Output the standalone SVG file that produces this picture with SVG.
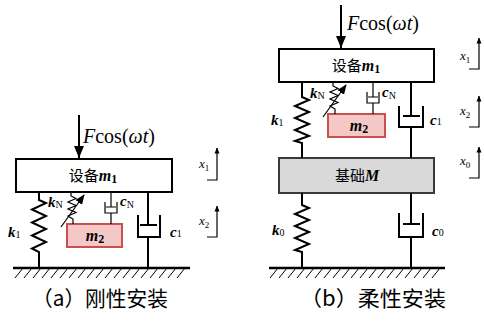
<svg xmlns="http://www.w3.org/2000/svg" width="484" height="322" viewBox="0 0 484 322">
<defs>
<style>
.ln{stroke:#000;stroke-width:2;fill:none}
.th{stroke:#000;stroke-width:1.2;fill:none}
.hatch{stroke:#000;stroke-width:1;fill:none}
.box{fill:#fff;stroke:#000;stroke-width:2}
.m2{fill:#f3c8c6;stroke:#c9504f;stroke-width:2}
.base{fill:#d9d9d9;stroke:#3a3a3a;stroke-width:2}
.serif{font-family:"Liberation Serif","Times New Roman",serif}
.cn{font-family:"Noto Sans CJK SC",sans-serif}
.lab{font-family:"Liberation Serif",serif;font-weight:bold;font-style:italic;font-size:15px}
.sub{font-weight:normal;font-style:normal;font-size:10px}
.xl{font-family:"Liberation Serif",serif;font-style:italic;font-size:13px}
.xs{font-style:normal;font-size:9px}
</style>
<marker id="ah" markerWidth="10" markerHeight="10" refX="9" refY="5" orient="auto" markerUnits="userSpaceOnUse">
<path d="M0,1 L10,5 L0,9 Z" fill="#000"/>
</marker>
<marker id="ahs" markerWidth="6" markerHeight="6" refX="5.5" refY="3" orient="auto" markerUnits="userSpaceOnUse">
<path d="M0,0.5 L6,3 L0,5.5 Z" fill="#000"/>
</marker>
<marker id="ahf" markerWidth="12" markerHeight="10" refX="12" refY="5" orient="auto" markerUnits="userSpaceOnUse">
<path d="M0,0 L12,5 L0,10 Z" fill="#000"/>
</marker>
</defs>

<!-- ============ Panel (a) ============ -->
<g id="a-force">
<line class="ln" x1="79" y1="115" x2="79" y2="158" marker-end="url(#ahf)"/>
<text class="serif" x="83" y="143" font-size="20"><tspan font-style="italic">F</tspan>cos(<tspan font-style="italic">ωt</tspan>)</text>
</g>
<g id="a-m1">
<rect class="box" x="16" y="159" width="156" height="33"/>
<text x="93" y="181" text-anchor="middle"><tspan class="cn" font-size="15">设备</tspan><tspan class="serif" font-size="16" font-weight="bold" font-style="italic">m</tspan><tspan class="serif" font-size="12" font-weight="bold" dy="2">1</tspan></text>
</g>
<g id="a-m2">
<rect class="m2" x="67" y="224" width="55" height="23"/>
<text x="95" y="241" text-anchor="middle"><tspan class="serif" font-size="16" font-weight="bold" font-style="italic">m</tspan><tspan class="serif" font-size="12" font-weight="bold" dy="2">2</tspan></text>
</g>
<g id="a-ground">
<line x1="13" y1="268" x2="190" y2="268" stroke="#000" stroke-width="2.5"/>
<path class="hatch" d="M15 278l8-10M24 278l8-10M33 278l8-10M42 278l8-10M51 278l8-10M60 278l8-10M69 278l8-10M78 278l8-10M87 278l8-10M96 278l8-10M105 278l8-10M114 278l8-10M123 278l8-10M132 278l8-10M141 278l8-10M150 278l8-10M159 278l8-10M168 278l8-10M177 278l8-10"/>
</g>
<g id="a-x1">
<path class="th" d="M207 180H217V148" marker-end="url(#ahs)"/>
<text class="xl" x="199" y="168">x<tspan class="xs" dy="3">1</tspan></text>
</g>
<g id="a-x2">
<path class="th" d="M207 237H217V206" marker-end="url(#ahs)"/>
<text class="xl" x="199" y="225">x<tspan class="xs" dy="3">2</tspan></text>
</g>
<g id="connectors-a">
<!-- k1 spring -->
<path class="ln" d="M39 192V200L46 203L32 209.5L46 216L32 222.5L46 229L32 235.5L46 242L32 248.5L39 252V268"/>
<text class="lab" x="8" y="237">k<tspan class="sub" dy="1">1</tspan></text>
<!-- kN nonlinear spring -->
<path class="th" d="M71 192V196L76 198.5L68 202L76 205.5L68 209L76 212.5L68 216L73 219V224"/>
<line class="th" x1="61" y1="227" x2="84" y2="195" marker-end="url(#ah)"/>
<text class="lab" x="48" y="207">k<tspan class="sub" dy="1">N</tspan></text>
<!-- cN small damper -->
<path class="th" d="M111 192V207M106 207H116M105 202V213H117V202M111 213V224"/>
<text class="lab" x="120" y="206">c<tspan class="sub" dy="2">N</tspan></text>
<!-- c1 damper -->
<path class="ln" d="M148 192V225M140 225H157M138 215V237H160V215M148 237V268"/>
<text class="lab" x="170" y="237">c<tspan class="sub" dy="0">1</tspan></text>
</g>
<text class="cn" x="100" y="306" font-size="21" text-anchor="middle" textLength="136" lengthAdjust="spacingAndGlyphs">（a）刚性安装</text>

<!-- ============ Panel (b) ============ -->
<g id="b-force">
<line class="ln" x1="341" y1="5" x2="341" y2="48" marker-end="url(#ahf)"/>
<text class="serif" x="347" y="30" font-size="20"><tspan font-style="italic">F</tspan>cos(<tspan font-style="italic">ωt</tspan>)</text>
</g>
<g id="b-m1">
<rect class="box" x="279" y="49" width="155" height="33"/>
<text x="356" y="71" text-anchor="middle"><tspan class="cn" font-size="15">设备</tspan><tspan class="serif" font-size="16" font-weight="bold" font-style="italic">m</tspan><tspan class="serif" font-size="12" font-weight="bold" dy="2">1</tspan></text>
</g>
<g id="b-m2">
<rect class="m2" x="328" y="114" width="57" height="23"/>
<text x="359" y="131" text-anchor="middle"><tspan class="serif" font-size="16" font-weight="bold" font-style="italic">m</tspan><tspan class="serif" font-size="12" font-weight="bold" dy="2">2</tspan></text>
</g>
<g id="b-base">
<rect class="base" x="279" y="158" width="155" height="35"/>
<text x="357" y="181" text-anchor="middle"><tspan class="cn" font-size="15">基础</tspan><tspan class="serif" font-size="16" font-weight="bold" font-style="italic">M</tspan></text>
</g>
<g id="b-ground">
<line x1="269" y1="268" x2="445" y2="268" stroke="#000" stroke-width="2.5"/>
<path class="hatch" d="M270 278l8-10M279 278l8-10M288 278l8-10M297 278l8-10M306 278l8-10M315 278l8-10M324 278l8-10M333 278l8-10M342 278l8-10M351 278l8-10M360 278l8-10M369 278l8-10M378 278l8-10M387 278l8-10M396 278l8-10M405 278l8-10M414 278l8-10M423 278l8-10M432 278l8-10"/>
</g>
<g id="b-x1">
<path class="th" d="M469 69H479V38" marker-end="url(#ahs)"/>
<text class="xl" x="460" y="60">x<tspan class="xs" dy="3">1</tspan></text>
</g>
<g id="b-x2">
<path class="th" d="M469 127H479V96" marker-end="url(#ahs)"/>
<text class="xl" x="460" y="115">x<tspan class="xs" dy="3">2</tspan></text>
</g>
<g id="b-x0">
<path class="th" d="M469 178H479V147" marker-end="url(#ahs)"/>
<text class="xl" x="460" y="165">x<tspan class="xs" dy="3">0</tspan></text>
</g>
<g id="connectors-b">
<!-- k1 -->
<path class="ln" d="M302 82V97L309 100L295 106L309 112L295 118L309 124L295 130L309 136L295 141L302 143V158"/>
<text class="lab" x="271" y="125">k<tspan class="sub" dy="1">1</tspan></text>
<!-- kN -->
<path class="th" d="M333 82V86L338 88.5L330 92L338 95.5L330 99L338 102.5L330 106L335 109V114"/>
<line class="th" x1="323" y1="117" x2="346" y2="85" marker-end="url(#ah)"/>
<text class="lab" x="310" y="98">k<tspan class="sub" dy="1">N</tspan></text>
<!-- cN -->
<path class="th" d="M373 82V97M368 97H378M367 92V103H379V92M373 103V114"/>
<text class="lab" x="382" y="97">c<tspan class="sub" dy="2">N</tspan></text>
<!-- c1 -->
<path class="ln" d="M411 82V116M403 116H420M399 106V127H423V106M411 127V158"/>
<text class="lab" x="430" y="125">c<tspan class="sub">1</tspan></text>
<!-- k0 -->
<path class="ln" d="M302 193V205L309 208L295 214L309 220L295 226L309 232L295 238L309 244L295 250L302 252V268"/>
<text class="lab" x="272" y="235">k<tspan class="sub" dy="1">0</tspan></text>
<!-- c0 -->
<path class="ln" d="M411 193V224M403 224H420M399 213V237H423V213M411 237V268"/>
<text class="lab" x="432" y="236">c<tspan class="sub">0</tspan></text>
</g>
<text class="cn" x="373" y="306" font-size="21" text-anchor="middle" textLength="146" lengthAdjust="spacingAndGlyphs">（b）柔性安装</text>
</svg>
